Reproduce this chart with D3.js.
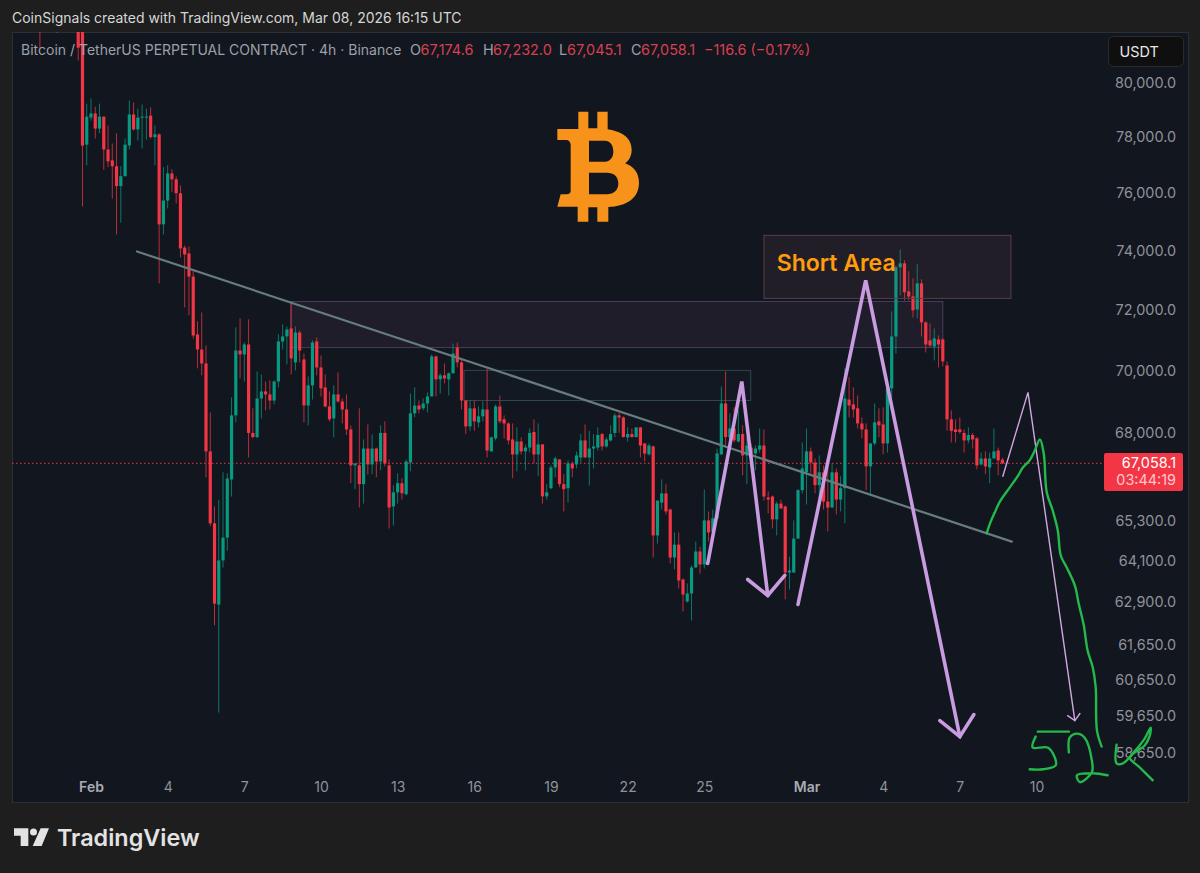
<!DOCTYPE html>
<html>
<head>
<meta charset="utf-8">
<style>
	html, body { margin: 0; padding: 0; background: #1e1e1e; }
	svg { display: block; font-family: Inter, "Liberation Sans", sans-serif; }
</style>
<script src="https://cdn.jsdelivr.net/npm/d3@7"></script>
</head>
<body>
<div id="chart"></div>
<script>
// 4h candles, first bar sits 12 bars before Feb 1 00:00 UTC (the first ones are above the pane)
var firstBar = -12;

var opens = [
	83200,83000,83500,83700,83400,83900,84100,83700,83300,82800,
	82000,77730,
	78710,78860,78310,78745,77555,77165,76955,76250,76600,77700,
	78825,78280,78710,78710,78780,78000,78100,74910,75742,76700,
	76490,76000,74110,73905,73120,71185,70690,70235,67430,65220,
	62810,64110,64790,66560,68565,70657,70530,70855,68010,67880,
	69105,69330,69235,69040,69650,70955,71120,71385,70270,71250,
	70365,68880,69525,70955,70105,69460,68850,68470,69235,69010,
	68755,68120,66995,66995,66415,67520,67025,67520,67115,68010,
	66995,65730,66165,66445,66105,67085,68630,68880,68790,68945,
	69170,70465,69720,69850,69720,69915,70755,70270,69040,68215,
	68790,68345,68535,68755,67430,67840,68850,68440,68310,67805,
	67335,67740,67430,67550,68040,67335,67650,66040,66290,66930,
	67180,66415,66290,67055,67025,67240,67775,67240,67520,67550,
	67975,67585,67775,68010,68565,68500,67870,67975,67880,68185,
	67680,67335,67585,64855,65850,66130,65640,64195,64580,63545,
	62900,63135,63900,64375,63990,65310,64975,65370,67335,68945,
	67870,68150,67740,67975,67305,67550,67365,67490,67615,66005,
	66035,65340,65820,65730,63750,63750,64760,66230,66780,67430,
	67085,66385,66780,65880,65700,66780,65940,66290,69070,68915,
	68790,68310,68120,66965,67680,68375,68280,67680,69430,71120,
	73435,73570,72620,72450,72015,72890,71585,70990,70790,71020,
	71020,70170,68440,68120,68120,68010,67775,67945,67840,67025,
	67210,66930,67210,67458,67174.6
];
var highs = [
	83600,83700,84000,84200,84100,84500,84600,84200,83800,83500,
	82500,79220,
	79410,79110,79220,78745,78420,77770,78140,76955,77950,79335,
	79260,79040,79190,79040,79080,78420,78140,76920,76990,76850,
	76595,76275,74180,74145,73300,71620,71915,70825,68660,65730,
	65940,66780,66750,69140,71420,71720,70920,71685,68790,69975,
	69880,69650,69685,69685,71190,71520,71450,72280,71450,71320,
	70560,69815,70990,71090,70495,69880,69330,69525,69945,69105,
	69235,68250,67055,68790,67805,68280,67965,67550,68250,68375,
	67180,66380,66750,66600,67180,69265,69460,69040,69105,69300,
	70530,70495,69915,70235,69945,70885,70920,70400,69040,69040,
	69040,68850,69010,70075,67890,68915,69200,68565,68345,68310,
	68185,67870,67650,68150,68440,68310,67650,66415,66995,67270,
	67180,66720,67150,67115,67430,67975,68280,68075,67975,68185,
	68010,67870,68250,68630,68630,68535,68185,68150,68185,68185,
	67680,67680,67615,65912,66560,66415,65670,64945,64945,63575,
	63430,63960,64670,64520,66250,65580,65640,67520,69490,69975,
	68630,68820,68725,68250,67870,67680,67615,68150,68120,66195,
	66065,65880,65940,65760,64220,65310,66260,67710,68150,67550,
	67210,67305,66995,67055,67055,66900,66660,70075,69785,69460,
	69200,68500,68310,67680,68945,68790,68820,69460,71950,73500,
	74045,73670,73300,73060,73535,73025,71620,71550,71385,71155,
	71055,70300,68725,68440,68500,68120,68185,68010,67880,67395,
	67430,67395,68150,67550,67232
];
var lows = [
	81270,82300,82800,83000,81850,83200,83300,82600,82500,80820,
	75535,76990,
	78600,77950,78140,76830,76920,75810,74560,74970,76600,77555,
	78240,77880,77590,77910,77950,76990,72890,74560,75465,76050,
	75640,73770,72085,71820,71055,70075,69850,66630,65130,62210,
	59745,63900,64400,66035,68345,69750,69650,67240,67840,67840,
	68470,68725,68755,68915,69460,70690,70205,69880,70010,70270,
	68345,68250,69070,69850,69170,68820,68375,67870,68975,68310,
	67945,66445,66260,65700,65820,66720,66720,66630,66840,66965,
	65065,65155,65820,65940,66075,66810,68500,68630,68725,68660,
	69170,69170,69265,69590,69200,69915,70105,68755,67975,68075,
	68075,68185,68375,67240,67430,67775,68310,67840,67650,66600,
	66810,67335,66840,67395,67055,66660,65820,65940,66260,66630,
	66320,65580,65850,66630,66900,67085,67240,66375,66900,67458,
	67458,67550,67740,67870,68010,67870,67740,67870,67870,67240,
	67115,67305,64195,64610,65640,65490,64020,63845,63280,62610,
	62870,62350,63900,63720,63870,64670,64945,65340,67335,67550,
	67550,67710,67710,66690,66415,66930,66840,67395,65912,65520,
	65065,64855,65670,62960,63250,63750,64760,66130,65790,66750,
	66130,66005,65640,64975,65700,65490,65580,65220,68500,68500,
	68150,67840,66230,66065,67615,67870,67335,67395,69140,70560,
	72485,72315,72315,71750,71720,71120,70595,70755,70335,70105,
	70140,68075,67710,67710,67975,67395,67680,67520,66870,66995,
	66720,66445,67240,66690,67045.1
];
var closes = [
	83000,83500,83700,83400,83900,84100,83700,83300,82800,81300,
	77695,78745,
	78860,78310,78745,77555,77130,76955,76250,76600,77730,78825,
	78280,78710,78745,78745,78000,78100,74910,75742,76700,76490,
	76000,74080,73870,73120,71150,70690,70235,67430,65220,62840,
	64110,64790,66590,68565,70657,70530,70855,68010,67880,69105,
	69330,69235,69040,69650,70955,71120,71350,70400,71250,70657,
	68880,69525,70920,70105,69430,68850,68440,69235,69010,68755,
	68120,66995,67055,66415,67520,67025,67520,67115,68010,67055,
	65700,66165,66445,66135,67115,68630,68880,68755,68945,69170,
	70465,69720,69850,69750,69915,70560,70270,69040,68215,68790,
	68375,68535,68755,67458,67870,68850,68375,68310,67775,67335,
	67740,67430,67550,68010,67335,67650,66040,66165,66930,67210,
	66415,66260,67055,66900,67305,67775,67240,67520,67585,67945,
	67585,67805,67975,68565,68500,67880,67975,67880,68185,67615,
	67365,67615,64855,65912,66130,65580,64195,64580,63515,63105,
	63135,63900,64375,63990,65310,64945,65370,67365,68945,67880,
	68150,67775,67975,67305,67615,67240,67520,67615,66035,65945,
	65340,65820,65670,63750,63810,64760,66230,66900,67430,67085,
	66385,66780,65880,65700,66780,65940,66290,69105,68880,68755,
	68310,68120,66965,67680,68345,68250,67680,69430,71120,73435,
	73570,72590,72450,71985,72890,71585,70855,70825,71055,70855,
	70300,68440,68075,68040,68040,67775,67945,67805,66995,67210,
	66965,67210,67430,67150,67058.1
];

var lastPrice = 67058.1;
var countdown = '03:44:19';

// axes
var priceTicks = [80000,78000,76000,74000,72000,70000,68000,65300,64100,62900,61650,60650,59650,58650];
var dayTicks = ['2026-02-01','2026-02-04','2026-02-07','2026-02-10','2026-02-13','2026-02-16','2026-02-19','2026-02-22','2026-02-25','2026-03-01','2026-03-04','2026-03-07','2026-03-10'];
var dayLabels = ['Feb','4','7','10','13','16','19','22','25','Mar','4','7','10'];

// drawings, as [bar, price] pairs
var trendLine = [[10.8,73975],[216.2,64670]];
var boxMid = [[46.9,72280],[200,70755]];
var boxLow = [[87.6,70010],[154.9,69040]];
var boxShort = [[158,74530],[216,72385]];
var zigOne = [[144.8,64018],[152.8,69650],[158.9,63075]];
var zigOneHead = [[154.2,63545],[158.9,63075],[162.9,63665]];
var zigTwo = [[166,62813],[181.9,72993],[204,59083]];
var zigTwoHead = [[199.3,59523],[204,59083],[207.3,59690]];
var zigThin = [[214.1,66660],[220,69300],[231,59523]];
var zigThinHead = [[229.3,59660],[231,59523],[232.2,59720]];
var shortLabelAt = [161,73300];

// hand drawn green strokes
var greenPath = [[210.3,64916],[211,65190],[212.2,65550],[213.4,65880],[215.7,66310],[217.6,66660],[218.8,66930],[220.4,67150],[221.6,67458],[222.8,67805],[223.7,67365],[224.4,66165],[225.8,65610],[227,65005],[227.7,64255],[229.1,63900],[231,63370],[231.9,62840],[233.1,62210],[234,61486],[235.2,61010],[235.9,60445],[236.2,59249],[237.3,58810]];
var fiveBar = [[222.3,59220],[229.6,59220]];
var fiveBody = [[221.8,59083],[221.1,58785],[224.6,58785],[226.3,58515],[226.5,58300],[223.5,58195],[220.4,58195]];
var twoStroke = [[229.6,58650],[229.8,59055],[231.5,59165],[233.3,59055],[235,58433],[235,58115],[232.2,57850],[231.5,58035],[235.2,58090],[238.7,58035]];
var kStroke = [[240.8,58865],[240.8,58355],[242.3,58355],[244.6,58625],[247.4,59030],[248.8,59330],[248.6,59110],[247.4,58840],[243.9,58515],[246.2,58250],[249.3,57900]];

var width = 1200, height = 873;
var pane = {left: 12, top: 32, right: 1188, bottom: 802};
var upColor = '#089981', downColor = '#f23645';

var t0 = Date.UTC(2026, 1, 1);
var barMs = 4 * 60 * 60 * 1000;
function barTime(bar) { return new Date(t0 + bar * barMs); }

var x = d3.scaleUtc().domain([new Date(t0), new Date(Date.UTC(2026, 2, 10))]).range([91, 1036.5]);
var y = d3.scaleLog().domain([58650, 80000]).range([752.5, 82.5]);
function px(p) { return x(barTime(p[0])); }
function py(p) { return y(p[1]); }

var svg = d3.select('#chart').append('svg').attr('width', width).attr('height', height);

svg.append('defs').append('clipPath').attr('id', 'paneClip').append('rect')
		.attr('x', pane.left).attr('y', pane.top)
		.attr('width', pane.right - pane.left).attr('height', pane.bottom - pane.top);

svg.append('rect').attr('width', width).attr('height', height).attr('fill', '#1e1e1e');

// header
svg.append('text').attr('x', 12).attr('y', 23)
		.attr('font-size', 14).attr('fill', '#d6d6d6')
		.text('CoinSignals created with TradingView.com, Mar 08, 2026 16:15 UTC');

// pane
svg.append('rect')
		.attr('x', pane.left + 0.5).attr('y', pane.top + 0.5)
		.attr('width', pane.right - pane.left).attr('height', pane.bottom - pane.top)
		.attr('fill', '#12161f').attr('stroke', '#2c2f36');

var plot = svg.append('g').attr('clip-path', 'url(#paneClip)');

// boxes under the candles
function drawBox(corners, fill, stroke) {
	plot.append('rect')
			.attr('x', px(corners[0])).attr('y', py(corners[0]))
			.attr('width', px(corners[1]) - px(corners[0]))
			.attr('height', py(corners[1]) - py(corners[0]))
			.attr('fill', fill).attr('stroke', stroke).attr('stroke-width', 1);
}
drawBox(boxMid, 'rgba(140,90,130,0.11)', '#473d58');
drawBox(boxLow, 'rgba(60,110,120,0.04)', '#2f4750');

// dotted last price line
plot.append('line')
		.attr('x1', pane.left).attr('x2', 1104)
		.attr('y1', y(lastPrice)).attr('y2', y(lastPrice))
		.attr('stroke', '#f23645').attr('stroke-opacity', 0.8)
		.attr('stroke-width', 1.2).attr('stroke-dasharray', '1.5 2.5');

// candles
var candles = opens.map(function(o, i) {
	return {bar: firstBar + i, open: o, high: highs[i], low: lows[i], close: closes[i]};
});
function candleColor(d) { return d.close >= d.open ? upColor : downColor; }

var candle = plot.append('g').selectAll('g').data(candles).join('g');
candle.append('line')
		.attr('x1', function(d) { return x(barTime(d.bar)); })
		.attr('x2', function(d) { return x(barTime(d.bar)); })
		.attr('y1', function(d) { return y(d.high); })
		.attr('y2', function(d) { return y(d.low); })
		.attr('stroke', candleColor).attr('stroke-width', 1).attr('stroke-opacity', 0.75);
candle.append('rect')
		.attr('x', function(d) { return x(barTime(d.bar)) - 1.6; })
		.attr('width', 3.2)
		.attr('y', function(d) { return y(Math.max(d.open, d.close)); })
		.attr('height', function(d) { return Math.max(1, Math.abs(y(d.open) - y(d.close))); })
		.attr('fill', candleColor);

drawBox(boxShort, 'rgba(160,100,110,0.11)', '#54404a');

var lineGen = d3.line().x(px).y(py);

function drawStroke(points, color, w) {
	plot.append('path').attr('d', lineGen(points))
			.attr('fill', 'none').attr('stroke', color).attr('stroke-width', w)
			.attr('stroke-linecap', 'round').attr('stroke-linejoin', 'miter');
}

drawStroke(trendLine, '#667c7e', 2.2);

drawStroke(zigOne, '#c99be0', 3.6);
drawStroke(zigOneHead, '#c99be0', 3.6);
drawStroke(zigTwo, '#c99be0', 3.6);
drawStroke(zigTwoHead, '#c99be0', 3.6);
drawStroke(zigThin, '#d0a8e0', 1.4);
drawStroke(zigThinHead, '#d0a8e0', 1.4);

// short area label
plot.append('text')
		.attr('x', px(shortLabelAt)).attr('y', py(shortLabelAt))
		.attr('font-size', 23).attr('font-weight', 600).attr('fill', '#ff9c0d')
		.text('Short Area');

// bitcoin mark, traced
svg.append('path')
		.attr('transform', 'translate(540,100) scale(0.3333)')
		.attr('fill', '#f7931a').attr('fill-rule', 'evenodd')
		.attr('d', 'M115 35H145V85H172V35H203V88C245 95 275 112 275 150C275 170 265 184 255 190C280 198 297 218 297 248C297 295 260 318 205 321V365H172V322H145V365H113V320H52L62 283H80C88 283 92 278 92 272V135C92 126 86 120 78 120H52V87H115Z'
			+ 'M147 122V185H195C210 185 220 172 220 155C220 135 210 122 195 122Z'
			+ 'M147 218V283H200C222 283 235 270 235 250C235 230 222 218 200 218Z');

// price axis
var priceAxis = svg.append('g').attr('transform', 'translate(1176,0)')
		.call(d3.axisRight(y).tickValues(priceTicks).tickSize(0).tickFormat(d3.format(',.1f')));
priceAxis.select('.domain').remove();
priceAxis.selectAll('text')
		.attr('x', 0).attr('text-anchor', 'end')
		.attr('font-family', 'Inter').attr('font-size', 14.4).attr('fill', '#8f929b');

// time axis
var dayDates = dayTicks.map(function(d) { return new Date(d + 'T00:00:00Z'); });
var timeAxis = svg.append('g').attr('transform', 'translate(0,782)')
		.call(d3.axisBottom(x).tickValues(dayDates).tickSize(0).tickFormat(function(d, i) { return dayLabels[i]; }));
timeAxis.select('.domain').remove();
timeAxis.selectAll('text')
		.attr('y', 0).attr('dy', '0.71em')
		.attr('font-family', 'Inter').attr('font-size', 14)
		.attr('font-weight', function(d, i) { return /[A-Z]/.test(dayLabels[i]) ? 600 : 400; })
		.attr('fill', function(d, i) { return /[A-Z]/.test(dayLabels[i]) ? '#a8abb3' : '#8f929b'; });

// title line
var titleColor = '#9da0a9', valueColor = '#d8404e';
var legendRuns = [
	['Bitcoin / TetherUS PERPETUAL CONTRACT · 4h · Binance', 21, titleColor],
	['O', 410, titleColor], ['67,174.6', 420.5, valueColor],
	['H', 483, titleColor], ['67,232.0', 493, valueColor],
	['L', 559, titleColor], ['67,045.1', 567, valueColor],
	['C', 631, titleColor], ['67,058.1', 641, valueColor],
	['−116.6 (−0.17%)', 704, valueColor]
];
svg.append('g').selectAll('text').data(legendRuns).join('text')
		.attr('x', function(d) { return d[1]; }).attr('y', 55)
		.attr('font-size', function(d, i) { return i === 0 ? 14 : 14.4; })
		.attr('fill', function(d) { return d[2]; })
		.text(function(d) { return d[0]; });

// currency button
svg.append('rect').attr('x', 1108.5).attr('y', 36.5).attr('width', 75).attr('height', 30).attr('rx', 5)
		.attr('fill', '#0f0f10').attr('stroke', '#2a2b30');
svg.append('text').attr('x', 1119.5).attr('y', 57).attr('font-size', 14.4).attr('fill', '#e8e8e8').text('USDT');

// last price badge
svg.append('rect').attr('x', 1104).attr('y', 453).attr('width', 79).attr('height', 38).attr('rx', 2).attr('fill', '#f23645');
svg.append('text').attr('x', 1176).attr('y', 468).attr('text-anchor', 'end')
		.attr('font-size', 14.4).attr('fill', '#ffffff').text(d3.format(',.1f')(lastPrice));
svg.append('text').attr('x', 1176).attr('y', 485).attr('text-anchor', 'end')
		.attr('font-size', 14.4).attr('fill', '#ffc9cd').text(countdown);

// green pen on top of everything
var greenColor = '#23b94b';
var penLine = d3.line().x(px).y(py).curve(d3.curveCatmullRom.alpha(0.5));
[greenPath, fiveBar, fiveBody, twoStroke, kStroke].forEach(function(points) {
	svg.append('path').attr('d', penLine(points))
			.attr('fill', 'none').attr('stroke', greenColor).attr('stroke-width', 2.4)
			.attr('stroke-linecap', 'round').attr('stroke-linejoin', 'round');
});

// logo
var logo = svg.append('g').attr('fill', '#e3e3e3');
logo.append('path').attr('transform', 'translate(0,770) scale(0.3333)')
		.attr('d', 'M42 175H85V228H62V197H42ZM122 175H147L125 228H98Z');
logo.append('circle').attr('cx', 33.5).attr('cy', 832).attr('r', 3.5);
logo.append('text').attr('x', 57).attr('y', 846).attr('font-size', 23.4).attr('font-weight', 600).text('TradingView');
</script>
</body>
</html>
